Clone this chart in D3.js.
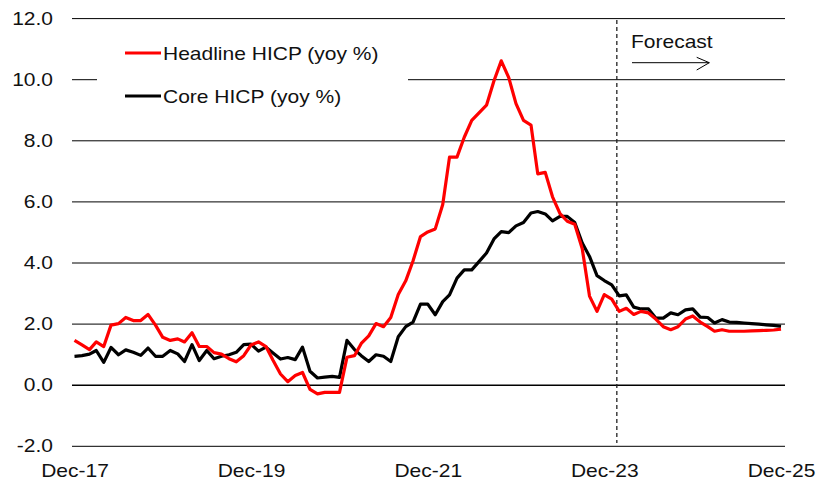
<!DOCTYPE html>
<html>
<head>
<meta charset="utf-8">
<script src="https://cdn.jsdelivr.net/npm/d3@7"></script>
<style>
  body { margin: 0; background: #fff; }
  svg text { font-family: "Liberation Sans", Arial, sans-serif; fill: #111; }
</style>
</head>
<body>
<div id="chart"></div>
<script>
/*Data*/
var seriesNames = ["Headline HICP (yoy %)", "Core HICP (yoy %)"];
var seriesColors = ["#ff0000", "#000000"];

// monthly, Dec-17 .. Dec-25
var headline = [1.45,
  1.3, 1.15, 1.4, 1.25, 1.95, 2.0, 2.2, 2.1, 2.1, 2.3, 1.95, 1.55,
  1.45, 1.5, 1.4, 1.7, 1.25, 1.25, 1.05, 1.0, 0.85, 0.75, 0.95, 1.3,
  1.4, 1.25, 0.8, 0.35, 0.1, 0.3, 0.4, -0.15, -0.3, -0.25, -0.25, -0.25,
  0.9, 0.95, 1.35, 1.6, 2.0, 1.9, 2.2, 2.95, 3.4, 4.05, 4.85, 5.0,
  5.1, 5.9, 7.45, 7.45, 8.1, 8.65, 8.9, 9.15, 9.95, 10.6, 10.05, 9.2,
  8.65, 8.5, 6.9, 6.95, 6.15, 5.6, 5.35, 5.25, 4.45, 2.9, 2.4, 2.95,
  2.8, 2.4, 2.5, 2.3, 2.4, 2.35, 2.15, 1.9, 1.8, 1.9, 2.15, 2.25,
  2.05, 1.9, 1.75, 1.8, 1.75, 1.75, 1.75, 1.76, 1.77, 1.78, 1.79, 1.82];

var core = [0.93,
  0.95, 1.0, 1.12, 0.73, 1.22, 0.98, 1.14, 1.06, 0.96, 1.2, 0.93, 0.93,
  1.12, 1.01, 0.76, 1.31, 0.79, 1.12, 0.85, 0.93, 0.98, 1.06, 1.31, 1.33,
  1.1, 1.23, 1.04, 0.84, 0.89, 0.82, 1.23, 0.44, 0.22, 0.25, 0.27, 0.24,
  1.45, 1.15, 0.95, 0.76, 0.98, 0.93, 0.76, 1.57, 1.9, 2.05, 2.64, 2.64,
  2.29, 2.72, 2.94, 3.49, 3.76, 3.76, 4.03, 4.31, 4.77, 5.01, 4.98, 5.2,
  5.31, 5.62, 5.67, 5.59, 5.36, 5.51, 5.51, 5.31, 4.64, 4.2, 3.57, 3.41,
  3.27, 2.91, 2.94, 2.54, 2.48, 2.48, 2.18, 2.18, 2.35, 2.29, 2.45, 2.48,
  2.21, 2.2, 2.02, 2.13, 2.05, 2.04, 2.02, 2.0, 1.98, 1.96, 1.94, 1.91];

var months = d3.timeMonth.range(new Date(2017, 11, 1), new Date(2026, 0, 1));
var xTickDates = [new Date(2017, 11, 1), new Date(2019, 11, 1), new Date(2021, 11, 1), new Date(2023, 11, 1), new Date(2025, 11, 1)];
var yTicks = [-2, 0, 2, 4, 6, 8, 10, 12];
var forecastDate = new Date(2024, 0, 22);
var forecastLabel = "Forecast";

/*SVG Size*/
var width = 818;
var height = 480;
var plot_l = 72, plot_r = 785;
var fs = 18.6;
var sx = 1.13; // text is a little wide in the original

var svg = d3.select("#chart").append("svg")
  .attr("width", width)
  .attr("height", height);

var x = d3.scaleTime()
  .domain([months[0], months[months.length - 1]])
  .range([74.5, 781]);

var y = d3.scaleLinear()
  .domain([-2, 12])
  .range([445.8, 18.1]);

/*Grid + y labels*/
var yAxis = svg.append("g")
  .attr("transform", "translate(" + plot_l + ",0)")
  .call(d3.axisLeft(y)
    .tickValues(yTicks)
    .tickSizeInner(-(plot_r - plot_l))
    .tickSizeOuter(0)
    .tickPadding(19)
    .tickFormat(function(d){ return d.toFixed(1); }));
yAxis.select(".domain").remove();
yAxis.selectAll(".tick line")
  .attr("stroke", "#000")
  .attr("stroke-width", function(d){ return d === 0 ? 1.6 : 1; });
yAxis.selectAll(".tick text")
  .attr("font-size", fs)
  .attr("fill", "#111")
  .attr("x", -19 / sx)
  .attr("transform", "scale(" + sx + ",1)");

/*x labels*/
var xAxis = svg.append("g")
  .attr("transform", "translate(0,445.8)")
  .call(d3.axisBottom(x)
    .tickValues(xTickDates)
    .tickSize(0)
    .tickPadding(0)
    .tickFormat(d3.timeFormat("%b-%y")));
xAxis.select(".domain").remove();
xAxis.selectAll(".tick text")
  .attr("font-size", fs)
  .attr("fill", "#111")
  .attr("dy", null)
  .attr("y", 31.5)
  .attr("transform", "scale(" + sx + ",1)");

/*Legend*/
var legend = svg.append("g");
legend.append("rect")
  .attr("x", 97).attr("y", 30)
  .attr("width", 311).attr("height", 86)
  .attr("fill", "#fff");
seriesNames.forEach(function(name, i){
  var ly = 53 + i * 43;
  legend.append("line")
    .attr("x1", 125).attr("x2", 161)
    .attr("y1", ly).attr("y2", ly)
    .attr("stroke", seriesColors[i])
    .attr("stroke-width", 3);
  legend.append("text")
    .attr("transform", "translate(163," + (ly + 7) + ") scale(" + sx + ",1)")
    .attr("font-size", fs)
    .text(name);
});

/*Forecast marker*/
var fx = x(forecastDate);
svg.append("line")
  .attr("x1", fx).attr("x2", fx)
  .attr("y1", 20).attr("y2", 443)
  .attr("stroke", "#222")
  .attr("stroke-width", 1.3)
  .attr("stroke-dasharray", "4,3");

svg.append("text")
  .attr("transform", "translate(631,48) scale(" + sx + ",1)")
  .attr("font-size", fs)
  .text(forecastLabel);

svg.append("path")
  .attr("d", "M632,62.7H709.3M696.7,57.3L709.3,62.7L696.7,70")
  .attr("fill", "none")
  .attr("stroke", "#000")
  .attr("stroke-width", 1);

/*Lines*/
var line = d3.line()
  .x(function(d, i){ return x(months[i]); })
  .y(function(d){ return y(d); });

[core, headline].forEach(function(s, k){
  svg.append("path")
    .datum(s)
    .attr("d", line)
    .attr("fill", "none")
    .attr("stroke", k === 0 ? seriesColors[1] : seriesColors[0])
    .attr("stroke-width", 3.2)
    .attr("stroke-linejoin", "round");
});
</script>
</body>
</html>
